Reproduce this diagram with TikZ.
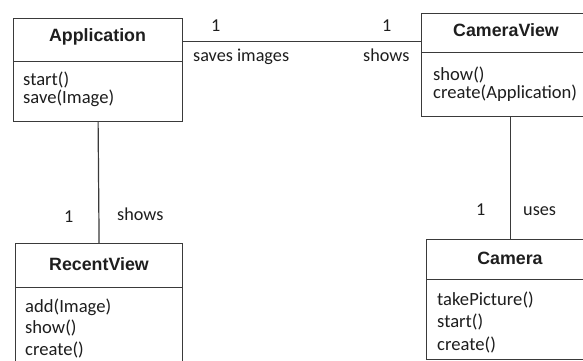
\documentclass[tikz,border=0pt]{standalone}
\usepackage{fontspec}
\setmainfont{Carlito}
\newfontfamily\titlefont{Liberation Sans}
\definecolor{ink}{HTML}{1E1E1E}
\definecolor{rule}{HTML}{3A3A3A}
\begin{document}
\begin{tikzpicture}[x=1pt,y=-1pt,
  box/.style={draw=rule,line width=1.2pt,rectangle,inner sep=0pt,anchor=north west},
  title/.style={anchor=base,inner sep=0pt,text=ink,font=\titlefont\bfseries\fontsize{17.8}{20}\selectfont},
  meth/.style={anchor=base west,inner sep=0pt,text=ink,font=\fontsize{18.6}{21}\selectfont},
  lab/.style={anchor=base west,inner sep=0pt,text=ink,font=\fontsize{18.2}{20}\selectfont},
  conn/.style={draw=rule,line width=1.2pt}]
\useasboundingbox (0,0) rectangle (583,361);
\clip (0,0) rectangle (583,361);
\fill[white] (0,0) rectangle (583,361);
% Application
\node[box,minimum width=169pt,minimum height=43pt] (appT) at (13,18) {};
\node[box,minimum width=169pt,minimum height=60pt] (appM) at (13,61) {};
\node[title] (appN) at (97.5,41.5) {Application};
\node[meth] (app1) at (23,85) {start()};
\node[meth] (app2) at (23,103) {save(Image)};
% CameraView
\node[box,minimum width=178pt,minimum height=39pt] (cvT) at (421,13) {};
\node[box,minimum width=178pt,minimum height=64pt] (cvM) at (421,52) {};
\node[title] (cvN) at (506,37) {CameraView};
\node[meth] (cv1) at (433,80) {show()};
\node[meth] (cv2) at (433,98) {create(Application)};
% RecentView
\node[box,minimum width=167pt,minimum height=44pt] (rvT) at (15,243) {};
\node[box,minimum width=167pt,minimum height=90pt] (rvM) at (15,287) {};
\node[title] (rvN) at (99,270) {RecentView};
\node[meth] (rv1) at (25,312) {add(Image)};
\node[meth] (rv2) at (25,333) {show()};
\node[meth] (rv3) at (25,355) {create()};
% Camera
\node[box,minimum width=168pt,minimum height=40pt] (camT) at (426,239) {};
\node[box,minimum width=168pt,minimum height=80pt] (camM) at (426,279) {};
\node[title] (camN) at (510,264) {Camera};
\node[meth] (cam1) at (437,305) {takePicture()};
\node[meth] (cam2) at (437,327) {start()};
\node[meth] (cam3) at (437,350) {create()};
% connectors
\draw[conn] ([yshift=-1.5pt]appT.east) -- ([yshift=-1.5pt]appT.east -| cvT.west);
\draw[conn] (appM.south) -- (rvT.north);
\draw[conn] (cvM.south) -- (camT.north);
% labels
\node[lab] (l1) at (211,32) {1};
\node[lab] (l2) at (193,61) {saves images};
\node[lab] (l3) at (382,32) {1};
\node[lab] (l4) at (363,61) {shows};
\node[lab] (l5) at (64,222) {1};
\node[lab] (l6) at (117,220) {shows};
\node[lab] (l7) at (476,215) {1};
\node[lab] (l8) at (523,215) {uses};
\end{tikzpicture}
\end{document}
